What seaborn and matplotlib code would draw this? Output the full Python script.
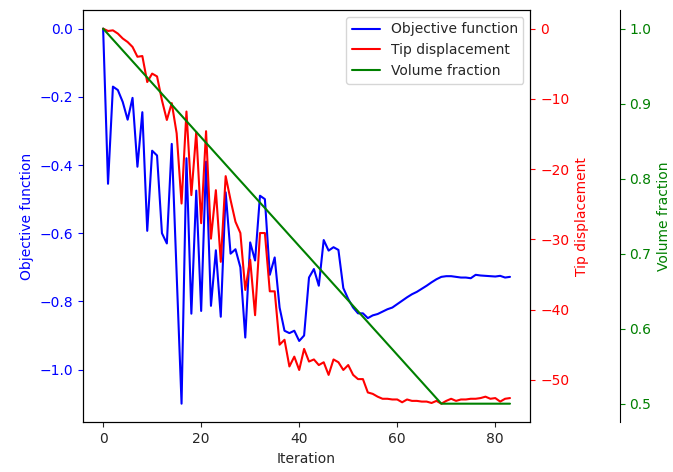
import numpy as np
import pandas as pd
import matplotlib
matplotlib.use("Agg")
import matplotlib.pyplot as plt
import seaborn as sns

# Values
iteration = list(range(84))

objective = [
    0.0, -0.455, -0.17, -0.18, -0.215, -0.267, -0.203, -0.405, -0.245, -0.593,
    -0.358, -0.372, -0.60, -0.63, -0.338, -0.72, -1.10, -0.38, -0.836, -0.475,
    -0.828, -0.39, -0.813, -0.65, -0.845, -0.48, -0.66, -0.647, -0.70, -0.906,
    -0.627, -0.68, -0.49, -0.50, -0.722, -0.671, -0.818, -0.886, -0.893, -0.886,
    -0.916, -0.90, -0.73, -0.705, -0.754, -0.62, -0.651, -0.641, -0.649, -0.761,
    -0.793, -0.818, -0.835, -0.835, -0.849, -0.841, -0.837, -0.83, -0.823, -0.818,
    -0.808, -0.798, -0.788, -0.779, -0.772, -0.763, -0.754, -0.744, -0.735, -0.728,
    -0.726, -0.726, -0.728, -0.730, -0.730, -0.732, -0.722, -0.724, -0.725, -0.726,
    -0.727, -0.725, -0.73, -0.728,
]

tip_disp = [
    0.0, -0.33, -0.24, -0.7, -1.4, -1.9, -2.6, -4.0, -3.9, -7.6,
    -6.4, -6.8, -10.2, -13.0, -10.6, -14.9, -24.9, -11.8, -23.7, -14.7,
    -27.7, -14.6, -29.9, -23.0, -33.2, -21.0, -24.4, -27.5, -29.1, -37.2,
    -32.9, -40.8, -29.1, -29.1, -37.4, -37.4, -45.0, -44.3, -48.1, -46.7,
    -48.6, -45.6, -47.4, -47.1, -47.9, -47.5, -49.3, -47.1, -47.5, -48.6,
    -47.9, -49.3, -49.9, -49.9, -51.8, -52.0, -52.4, -52.7, -52.7, -52.8,
    -52.8, -53.2, -52.8, -53.0, -53.0, -53.1, -53.1, -53.3, -53.0, -53.4,
    -53.0, -52.7, -53.0, -52.8, -52.8, -52.7, -52.7, -52.6, -52.4, -52.7,
    -52.6, -53.1, -52.7, -52.6,
]

vol_frac = [
    1.0000, 0.9928, 0.9855, 0.9783, 0.9710, 0.9638, 0.9565, 0.9493, 0.9420, 0.9348,
    0.9275, 0.9203, 0.9130, 0.9058, 0.8986, 0.8913, 0.8841, 0.8768, 0.8696, 0.8623,
    0.8551, 0.8478, 0.8406, 0.8333, 0.8261, 0.8188, 0.8116, 0.8043, 0.7971, 0.7899,
    0.7826, 0.7754, 0.7681, 0.7609, 0.7536, 0.7464, 0.7391, 0.7319, 0.7246, 0.7174,
    0.7101, 0.7029, 0.6957, 0.6884, 0.6812, 0.6739, 0.6667, 0.6594, 0.6522, 0.6449,
    0.6377, 0.6304, 0.6232, 0.6159, 0.6087, 0.6014, 0.5942, 0.5870, 0.5797, 0.5725,
    0.5652, 0.5580, 0.5507, 0.5435, 0.5362, 0.5290, 0.5217, 0.5145, 0.5072, 0.5000,
    0.5, 0.5, 0.5, 0.5, 0.5, 0.5, 0.5, 0.5, 0.5, 0.5,
    0.5, 0.5, 0.5, 0.5,
]

df = pd.DataFrame({'iteration': iteration, 'objective': objective,
                   'tip': tip_disp, 'vol': vol_frac})

sns.set_style("ticks")
plt.rcParams['font.family'] = ['DejaVu Sans']

fig = plt.figure(figsize=(6.73, 4.72), dpi=100)
host = fig.add_axes([0.123, 0.105, 0.665, 0.874])
par1 = host.twinx()
par2 = host.twinx()

# Offset the third axis to the right
par2.spines['right'].set_position(('axes', 1.2))
for s in ['left', 'top', 'bottom']:
    par2.spines[s].set_visible(False)

sns.lineplot(data=df, x='iteration', y='objective', ax=host, color='blue',
             label='Objective function', legend=False, linewidth=1.5)
sns.lineplot(data=df, x='iteration', y='tip', ax=par1, color='red',
             label='Tip displacement', legend=False, linewidth=1.5)
sns.lineplot(data=df, x='iteration', y='vol', ax=par2, color='green',
             label='Volume fraction', legend=False, linewidth=1.5)

host.set_xlabel('Iteration')
host.set_ylabel('Objective function', color='blue')
par1.set_ylabel('Tip displacement', color='red')
par2.set_ylabel('Volume fraction', color='green')

host.set_xticks([0, 20, 40, 60, 80])
par1.set_yticks([0, -10, -20, -30, -40, -50])
par2.set_yticks([0.5, 0.6, 0.7, 0.8, 0.9, 1.0])

host.tick_params(axis='y', colors='blue')
par1.tick_params(axis='y', colors='red')
par2.tick_params(axis='y', colors='green')

for ax in [host, par1, par2]:
    for s in ax.spines.values():
        s.set_color('black')

lines = host.get_lines() + par1.get_lines() + par2.get_lines()
par2.legend(lines, [l.get_label() for l in lines], loc='upper right')

fig.savefig('out.png', dpi=100)
